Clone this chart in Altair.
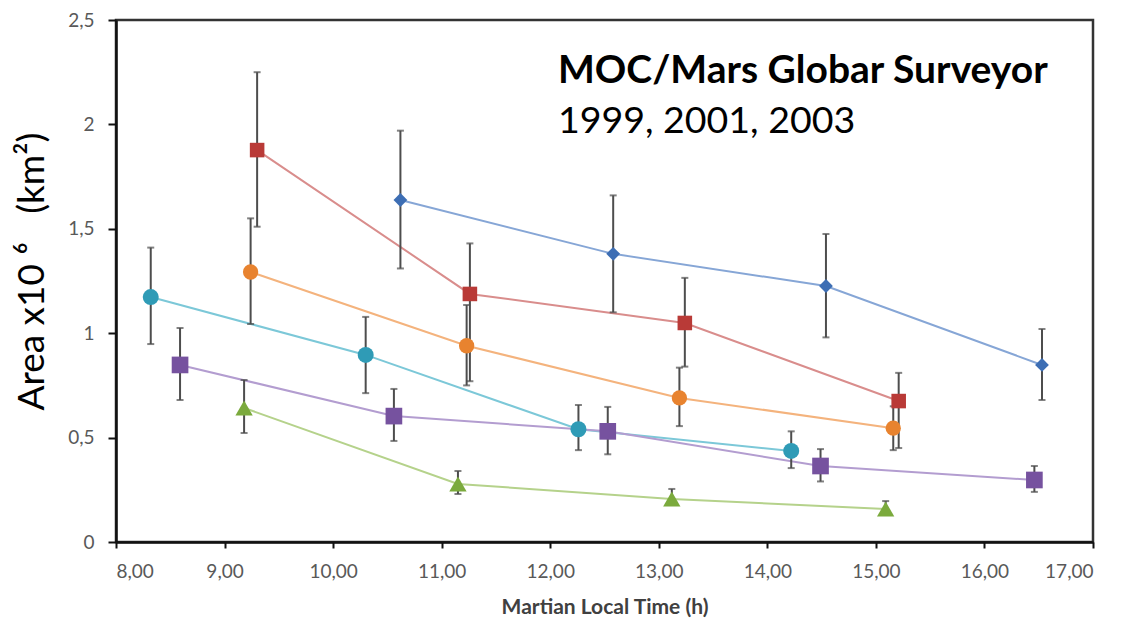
import altair as alt
import pandas as pd

# ---- data ----
series_names = ["blue", "red", "orange", "teal", "purple", "green"]

blue_x = [10.62, 12.58, 14.54, 16.53]
blue_y = [1.638, 1.38, 1.226, 0.848]
blue_lo = [1.31, 1.10, 0.98, 0.68]
blue_hi = [1.97, 1.66, 1.475, 1.02]

red_x = [9.30, 11.26, 13.24, 15.21]
red_y = [1.877, 1.188, 1.049, 0.675]
red_lo = [1.51, 0.77, 0.84, 0.45]
red_hi = [2.25, 1.43, 1.265, 0.81]

orange_x = [9.24, 11.23, 13.19, 15.16]
orange_y = [1.293, 0.94, 0.69, 0.545]
orange_lo = [1.044, 0.75, 0.555, 0.44]
orange_hi = [1.55, 1.135, 0.835, 0.65]

teal_x = [8.32, 10.30, 12.26, 14.22]
teal_y = [1.173, 0.896, 0.54, 0.436]
teal_lo = [0.948, 0.713, 0.44, 0.354]
teal_hi = [1.41, 1.078, 0.656, 0.53]

purple_x = [8.59, 10.56, 12.53, 14.49, 16.46]
purple_y = [0.848, 0.603, 0.53, 0.364, 0.297]
purple_lo = [0.68, 0.484, 0.42, 0.29, 0.24]
purple_hi = [1.025, 0.733, 0.647, 0.445, 0.364]

green_x = [9.18, 11.15, 13.12, 15.09]
green_y = [0.642, 0.278, 0.206, 0.158]
green_lo = [0.522, 0.23, 0.18, 0.15]
green_hi = [0.776, 0.34, 0.254, 0.196]

x_ticks = [8, 9, 10, 11, 12, 13, 14, 15, 16, 17]
y_ticks = [0, 0.5, 1, 1.5, 2, 2.5]

title_line1 = "MOC/Mars Globar Surveyor"
title_line2 = "1999, 2001, 2003"
y_title = "Area x10\u00a0⁶\u00a0\u00a0\u00a0(km²)"
x_title = "Martian Local Time (h)"

# ---- styles ----
marker_colors = ["#3D6EB4", "#B93A37", "#E8832F", "#2F9BB6", "#76529F", "#7BAA3D"]
line_colors = ["#86A6D6", "#D98D8C", "#F4B37D", "#7CC8D8", "#B39DD0", "#B5D28B"]
shapes = ["diamond", "square", "circle", "circle", "square", "triangle-up"]
sizes = [190, 300, 240, 260, 290, 180]

xs = [blue_x, red_x, orange_x, teal_x, purple_x, green_x]
ys = [blue_y, red_y, orange_y, teal_y, purple_y, green_y]
los = [blue_lo, red_lo, orange_lo, teal_lo, purple_lo, green_lo]
his = [blue_hi, red_hi, orange_hi, teal_hi, purple_hi, green_hi]

rows = []
for name, sx, sy, slo, shi in zip(series_names, xs, ys, los, his):
    for a, b, c, d in zip(sx, sy, slo, shi):
        rows.append({"series": name, "x": a, "y": b, "lo": c, "hi": d})
df = pd.DataFrame(rows)

W, H = 977, 522

xscale = alt.Scale(domain=[8, 17], nice=False, zero=False)
yscale = alt.Scale(domain=[0, 2.5], nice=False)

xaxis = alt.Axis(
    values=x_ticks,
    labelExpr="replace(format(datum.value, '.2f'), '.', ',')",
    title=x_title, grid=False,
    domainColor="#111111", domainWidth=2.5,
    tickColor="#111111", tickWidth=2, tickSize=6,
    labelFont="Lato", labelFontSize=19, labelColor="#595959", labelPadding=14,
    titleFont="Lato", titleFontSize=21, titleFontWeight="bold", titleColor="#404040",
    titleY=71, titleBaseline="alphabetic",
)
yaxis = alt.Axis(
    values=y_ticks,
    labelExpr="replace(format(datum.value, '~g'), '.', ',')",
    title=y_title, grid=False,
    domainColor="#111111", domainWidth=2.5,
    tickColor="#111111", tickWidth=2, tickSize=8,
    labelFont="Lato", labelFontSize=19, labelColor="#595959", labelPadding=14,
    titleFont="Lato", titleFontSize=37, titleFontWeight="normal", titleColor="#000000",
    titleAngle=-90, titleX=-73, titleY=H / 2 - 10, titleAlign="center",
    titleBaseline="alphabetic",
)

base = alt.Chart(df)

lines = base.mark_line(strokeWidth=2).encode(
    x=alt.X("x:Q", scale=xscale, axis=xaxis),
    y=alt.Y("y:Q", scale=yscale, axis=yaxis),
    stroke=alt.Stroke("series:N", scale=alt.Scale(domain=series_names, range=line_colors), legend=None),
    detail="series:N",
)

err = base.mark_rule(color="#4d4d4d", strokeWidth=2).encode(
    x="x:Q", y="lo:Q", y2="hi:Q"
)
cap_hi = base.mark_tick(orient="horizontal", color="#4d4d4d", size=7, thickness=2).encode(
    x="x:Q", y="hi:Q"
)
cap_lo = base.mark_tick(orient="horizontal", color="#4d4d4d", size=7, thickness=2).encode(
    x="x:Q", y="lo:Q"
)

points = base.mark_point(filled=True, opacity=1, strokeWidth=0).encode(
    x="x:Q",
    y="y:Q",
    fill=alt.Fill("series:N", scale=alt.Scale(domain=series_names, range=marker_colors), legend=None),
    shape=alt.Shape("series:N", scale=alt.Scale(domain=series_names, range=shapes), legend=None),
    size=alt.Size("series:N", scale=alt.Scale(domain=series_names, range=sizes), legend=None),
)

t1 = alt.Chart(pd.DataFrame({"t": [title_line1]})).mark_text(
    font="Lato", fontSize=39, fontWeight="bold", align="left", baseline="alphabetic", color="#000000"
).encode(text="t:N", x=alt.value(442), y=alt.value(63))

t2 = alt.Chart(pd.DataFrame({"t": [title_line2]})).mark_text(
    font="Lato", fontSize=37.5, fontWeight="normal", align="left", baseline="alphabetic", color="#000000"
).encode(text="t:N", x=alt.value(442), y=alt.value(113))

chart = alt.layer(lines, err, cap_hi, cap_lo, points, t1, t2).properties(
    width=W, height=H,
    autosize=alt.AutoSizeParams(type="none"),
    padding={"left": 116, "top": 20, "right": 33, "bottom": 77},
    background="white",
).configure_view(stroke="#333333", strokeWidth=2.5)

chart.save("out.html", embed_options={"renderer": "svg", "actions": False})
